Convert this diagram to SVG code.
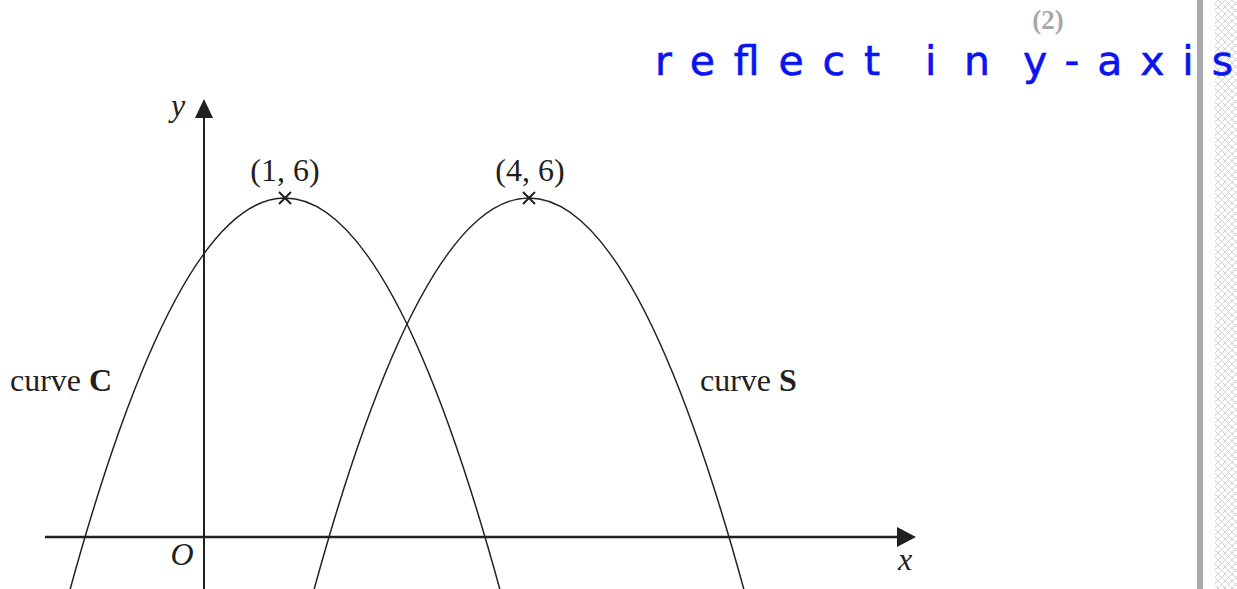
<svg xmlns="http://www.w3.org/2000/svg" width="1237" height="589" viewBox="0 0 1237 589">
<style>
.t{font-family:"Liberation Serif","Times New Roman",serif;font-size:32px;fill:#231f20}
.i{font-style:italic}
.curve{fill:none;stroke:#231f20;stroke-width:1.5}
.axis{stroke:#231f20;fill:none}
.mark{stroke:#231f20;stroke-width:2}
.hand{font-family:"DejaVu Sans",sans-serif;font-size:41px;fill:#0a14f0;stroke:#0a14f0;stroke-width:0.6}
</style>
<defs>
<pattern id="hatch" width="7" height="7" patternUnits="userSpaceOnUse">
<path d="M0,0 L7,7 M7,0 L0,7" stroke="#c8c8c8" stroke-width="0.8"/>
</pattern>
</defs>
<rect width="1237" height="589" fill="#fff"/>
<g id="border">
<rect x="1197" y="0" width="6" height="589" fill="#a8a8ad"/>
<rect x="1215" y="0" width="22" height="589" fill="url(#hatch)"/>
</g>
<g id="axes">
<line class="axis" x1="45" y1="537" x2="900" y2="537" stroke-width="2.6"/>
<polygon points="897,527 916,537 897,547" fill="#231f20"/>
<line class="axis" x1="204" y1="589" x2="204" y2="115" stroke-width="2"/>
<polygon points="195,118 204,99 213,118" fill="#231f20"/>
<text class="t i" x="178" y="116" text-anchor="middle">y</text>
<text class="t i" x="182" y="565" text-anchor="middle">O</text>
<text class="t i" x="905" y="570" text-anchor="middle">x</text>
</g>
<g id="curveC">
<path class="curve" d="M65,608.2 Q285,-212.2 505,608.2"/>
<path class="mark" d="M279,192 L291,204 M291,192 L279,204"/>
<text class="t" x="285" y="181" text-anchor="middle">(1, 6)</text>
<text class="t" x="10" y="391">curve <tspan font-weight="bold">C</tspan></text>
</g>
<g id="curveS">
<path class="curve" d="M309,608.2 Q529,-212.2 749,608.2"/>
<path class="mark" d="M523,192 L535,204 M535,192 L523,204"/>
<text class="t" x="530" y="181" text-anchor="middle">(4, 6)</text>
<text class="t" x="700" y="391">curve <tspan font-weight="bold">S</tspan></text>
</g>
<g id="marks">
<text x="1048" y="29" text-anchor="middle" font-family="Liberation Serif, serif" font-size="27" font-weight="bold" fill="#a8a8a8">(2)</text>
</g>
<g id="annotation">
<text class="hand" x="655" y="75" textLength="225" lengthAdjust="spacing">reflect</text>
<text class="hand" x="925" y="75" textLength="65" lengthAdjust="spacing">in</text>
<text class="hand" x="1023" y="75" textLength="210" lengthAdjust="spacing">y-axis</text>
</g>
</svg>
